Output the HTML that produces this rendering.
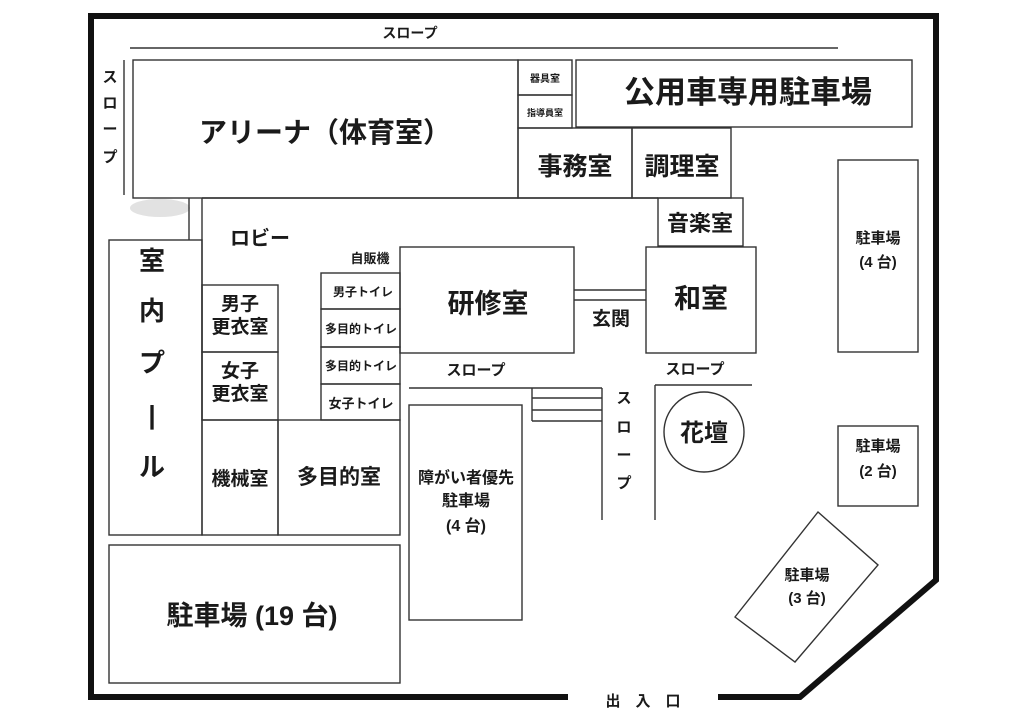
<!DOCTYPE html>
<html><head><meta charset="utf-8"><style>
html,body{margin:0;padding:0;background:#fff;}
svg{display:block}
text{font-family:"Liberation Sans","Noto Sans CJK JP",sans-serif;font-weight:bold;fill:#1a1a1a;text-anchor:middle;}
</style></head><body>
<svg width="1024" height="723" viewBox="0 0 1024 723" xmlns="http://www.w3.org/2000/svg">
<g fill="none" stroke="#111" stroke-width="6">
<polyline points="568,697 91,697 91,16 936,16 936,580 800,697 718,697"/>
</g>
<ellipse cx="160" cy="208" rx="30" ry="9" fill="#e2e2e2"/>
<g fill="none" stroke="#333" stroke-width="1.4">
<line x1="130" y1="48" x2="838" y2="48"/>
<line x1="124" y1="60" x2="124" y2="195"/>
<rect x="133" y="60" width="385" height="138"/>
<rect x="518" y="60" width="54" height="35"/>
<rect x="518" y="95" width="54" height="33"/>
<rect x="576" y="60" width="336" height="67"/>
<rect x="518" y="128" width="114" height="70"/>
<rect x="632" y="128" width="99" height="70"/>
<rect x="658" y="198" width="85" height="48"/>
<line x1="202" y1="198" x2="658" y2="198"/>
<line x1="202" y1="198" x2="202" y2="420"/>
<line x1="189" y1="198" x2="189" y2="240"/>
<rect x="109" y="240" width="93" height="295"/>
<rect x="202" y="285" width="76" height="67"/>
<rect x="202" y="352" width="76" height="68"/>
<rect x="202" y="420" width="76" height="115"/>
<rect x="278" y="420" width="122" height="115"/>
<rect x="321" y="273" width="79" height="36"/>
<rect x="321" y="309" width="79" height="38"/>
<rect x="321" y="347" width="79" height="37"/>
<rect x="321" y="384" width="79" height="36"/>
<rect x="400" y="247" width="174" height="106"/>
<line x1="574" y1="290" x2="646" y2="290"/>
<line x1="574" y1="300" x2="646" y2="300"/>
<rect x="646" y="247" width="110" height="106"/>
<line x1="409" y1="388" x2="602" y2="388"/>
<line x1="532" y1="398" x2="602" y2="398"/>
<line x1="532" y1="410" x2="602" y2="410"/>
<line x1="532" y1="421" x2="602" y2="421"/>
<line x1="532" y1="388" x2="532" y2="421"/>
<line x1="602" y1="388" x2="602" y2="520"/>
<line x1="655" y1="385" x2="752" y2="385"/>
<line x1="655" y1="385" x2="655" y2="520"/>
<circle cx="704" cy="432" r="40"/>
<rect x="409" y="405" width="113" height="215"/>
<rect x="838" y="160" width="80" height="192"/>
<rect x="838" y="426" width="80" height="80"/>
<rect x="109" y="545" width="291" height="138"/>
<polygon points="735,617 818,512 878,565 795,662"/>
</g>
<text x="410" y="38" font-size="14">スロープ</text>
<g font-size="15"><text x="110" y="82">ス</text><text x="110" y="108">ロ</text><text x="110" y="134">ー</text><text x="110" y="162">プ</text></g>
<text x="325" y="142" font-size="28">アリーナ（体育室）</text>
<text x="545" y="82" font-size="10">器具室</text>
<text x="545" y="116" font-size="9">指導員室</text>
<text x="748" y="103" font-size="31">公用車専用駐車場</text>
<text x="575" y="175" font-size="25">事務室</text>
<text x="682" y="175" font-size="25">調理室</text>
<text x="700" y="231" font-size="22">音楽室</text>
<text x="260" y="245" font-size="20">ロビー</text>
<g font-size="26"><text x="152" y="270">室</text><text x="152" y="320">内</text><text x="152" y="372">プ</text><text x="152" y="424">|</text><text x="152" y="476">ル</text></g>
<text x="240" y="310" font-size="19">男子</text><text x="240" y="333" font-size="19">更衣室</text>
<text x="240" y="377" font-size="19">女子</text><text x="240" y="400" font-size="19">更衣室</text>
<text x="240" y="485" font-size="19">機械室</text>
<text x="339" y="484" font-size="21">多目的室</text>
<text x="370" y="263" font-size="13">自販機</text>
<text x="363" y="296" font-size="12">男子トイレ</text>
<text x="361" y="333" font-size="12">多目的トイレ</text>
<text x="361" y="370" font-size="12">多目的トイレ</text>
<text x="361" y="408" font-size="13">女子トイレ</text>
<text x="488" y="313" font-size="27">研修室</text>
<text x="611" y="325" font-size="19">玄関</text>
<text x="701" y="308" font-size="27">和室</text>
<text x="476" y="375" font-size="15">スロープ</text>
<text x="695" y="374" font-size="15">スロープ</text>
<g font-size="15"><text x="624" y="403">ス</text><text x="624" y="432">ロ</text><text x="624" y="460">ー</text><text x="624" y="488">プ</text></g>
<text x="704" y="441" font-size="24">花壇</text>
<text x="466" y="483" font-size="16">障がい者優先</text>
<text x="466" y="506" font-size="16">駐車場</text>
<text x="466" y="531" font-size="16">(4 台)</text>
<text x="878" y="243" font-size="15">駐車場</text><text x="878" y="267" font-size="15">(4 台)</text>
<text x="878" y="451" font-size="15">駐車場</text><text x="878" y="476" font-size="15">(2 台)</text>
<text x="807" y="580" font-size="15">駐車場</text><text x="807" y="603" font-size="15">(3 台)</text>
<text x="252" y="625" font-size="27">駐車場 (19 台)</text>
<text x="643" y="706" font-size="15">出　入　口</text>
</svg>
</body></html>
